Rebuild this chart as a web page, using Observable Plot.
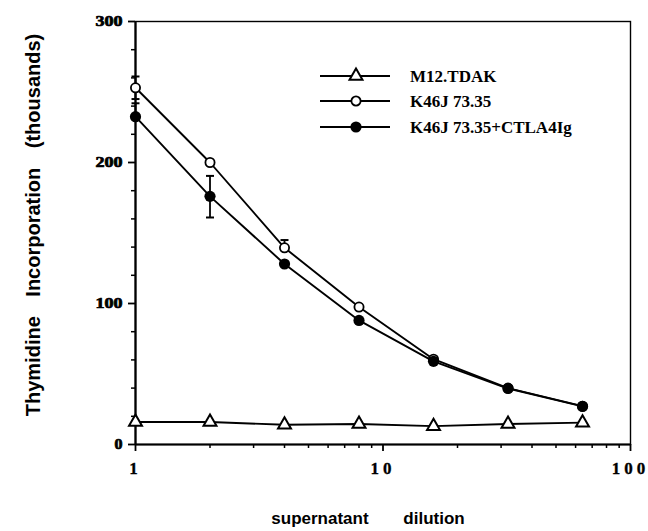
<!DOCTYPE html>
<html><head><meta charset="utf-8">
<script src="https://cdn.jsdelivr.net/npm/d3@7"></script>
<script src="https://cdn.jsdelivr.net/npm/@observablehq/plot@0.6"></script>
<style>
body{margin:0;background:#fff;}
</style></head><body><div id="chart"></div>
<script>
// ---- data ----
const dilutions = [1, 2, 4, 8, 16, 32, 64];
const seriesNames = ["M12.TDAK", "K46J 73.35", "K46J 73.35+CTLA4Ig"];
const m12 = [16, 16, 14, 14.5, 13, 14.5, 15.5];
const k46j = [253, 200, 139.5, 97.5, 60.5, 40, 27.2];
const k46jCtla = [232.5, 176, 128, 88, 59, 39.7, 27];
const errX = [1, 1, 2, 4];
const errSeries = ["K46J 73.35", "K46J 73.35+CTLA4Ig", "K46J 73.35+CTLA4Ig", "K46J 73.35"];
const errLow = [245, 232.5, 161, 139.5];
const errHigh = [261, 242, 190.5, 145];
const xMajorTicks = [1, 10, 100];
const xMinorTicks = [2, 3, 4, 5, 6, 7, 8, 9, 20, 30, 40, 50, 60, 70, 80, 90];
const yMajorTicks = [0, 100, 200, 300];
const yMinorTicks = [20, 40, 60, 80, 120, 140, 160, 180, 220, 240, 260, 280];
const xTitle = "supernatant dilution";
const yTitle = "Thymidine Incorporation (thousands)";

// ---- build table ----
const seriesValues = [m12, k46j, k46jCtla];
const rows = [];
seriesNames.forEach((s, i) => dilutions.forEach((d, j) => rows.push({series: s, dilution: d, value: seriesValues[i][j]})));
const errs = errX.map((x, i) => ({series: errSeries[i], dilution: x, low: errLow[i], high: errHigh[i]}));

const capSymbol = {draw(ctx, size) { const w = Math.sqrt(size) / 2; ctx.moveTo(-w, 0); ctx.lineTo(w, 0); }};

const serif = "Liberation Serif, Times New Roman, serif";
const sans = "Liberation Sans, Arial, Helvetica, sans-serif";

const chart = Plot.plot({
  width: 648, height: 531,
  marginLeft: 135, marginRight: 18, marginTop: 21, marginBottom: 87,
  style: {background: "white", color: "black"},
  x: {type: "log", domain: [1, 100], axis: null},
  y: {domain: [0, 300], axis: null},
  marks: [
    Plot.axisX(xMinorTicks, {tickSize: 4, strokeWidth: 1.5, tickFormat: () => "", label: null}),
    Plot.axisX(xMajorTicks, {tickSize: 7, tickPadding: 10, strokeWidth: 1.8, tickFormat: d => String(d), label: null,
      fontFamily: serif, fontWeight: "bold", fontSize: 17}),
    Plot.axisY(yMinorTicks, {tickSize: 4, strokeWidth: 1.5, tickFormat: () => "", label: null}),
    Plot.axisY(yMajorTicks, {tickSize: 7, tickPadding: 6, strokeWidth: 1.8, tickFormat: d => String(d), label: null,
      fontFamily: serif, fontWeight: "bold", fontSize: 14}),
    Plot.frame({strokeWidth: 1.4}),
    Plot.ruleX([1], {strokeWidth: 2.2}),
    Plot.ruleY([0], {strokeWidth: 2.2}),
    Plot.line(rows, {x: "dilution", y: "value", z: "series", stroke: "black", strokeWidth: 1.9}),
    Plot.ruleX(errs, {x: "dilution", y1: "low", y2: "high", stroke: "black", strokeWidth: 1.8}),
    Plot.dot(errs, {x: "dilution", y: "high", symbol: capSymbol, r: 4.5, stroke: "black", strokeWidth: 2, fill: "none"}),
    Plot.dot(errs, {x: "dilution", y: "low", symbol: capSymbol, r: 4.5, stroke: "black", strokeWidth: 2, fill: "none"}),
    Plot.dot(rows.filter(d => d.series === seriesNames[0]), {x: "dilution", y: "value", symbol: "triangle", r: 4.8, fill: "white", stroke: "black", strokeWidth: 2}),
    Plot.dot(rows.filter(d => d.series === seriesNames[1]), {x: "dilution", y: "value", symbol: "circle", r: 4.6, fill: "white", stroke: "black", strokeWidth: 1.8}),
    Plot.dot(rows.filter(d => d.series === seriesNames[2]), {x: "dilution", y: "value", symbol: "circle", r: 5.6, fill: "black", stroke: "none"})
  ]
});
document.getElementById("chart").appendChild(chart);

const svg = d3.select(chart);
// heavy, wide y tick labels
svg.selectAll('g[aria-label="y-axis tick label"] text').each(function() {
  const t = d3.select(this); const s = t.text();
  if (s.length) t.attr("textLength", s.length === 1 ? 8 : 27).attr("lengthAdjust", "spacingAndGlyphs")
    .attr("stroke", "black").attr("stroke-width", 0.7);
});
svg.selectAll('g[aria-label="x-axis tick label"] text').attr("letter-spacing", "4px")
  .attr("stroke", "black").attr("stroke-width", 0.3);

// axis titles
svg.append("text").attr("x", 368).attr("y", 524).attr("text-anchor", "middle")
  .attr("font-family", sans).attr("font-weight", "bold").attr("font-size", 17).attr("word-spacing", "30px")
  .attr("fill", "black").text(xTitle);
svg.append("text").attr("transform", "translate(40,225) rotate(-90)").attr("text-anchor", "middle")
  .attr("font-family", sans).attr("font-weight", "bold").attr("font-size", 20).attr("word-spacing", "14px")
  .attr("fill", "black").text(yTitle);

// legend
const legY = [76, 101, 127];
const leg = svg.append("g");
seriesNames.forEach((name, i) => {
  const g = leg.append("g").attr("transform", `translate(0,${legY[i]})`);
  g.append("line").attr("x1", 320).attr("x2", 390).attr("y1", 0).attr("y2", 0).attr("stroke", "black").attr("stroke-width", 1.8);
  const r = i === 2 ? 5.6 : (i === 0 ? 4.8 : 4.6);
  const sym = d3.symbol(i === 0 ? d3.symbolTriangle : d3.symbolCircle, Math.PI * r * r)();
  g.append("path").attr("d", sym).attr("transform", "translate(356,0)")
    .attr("fill", i === 2 ? "black" : "white").attr("stroke", i === 2 ? "none" : "black").attr("stroke-width", i === 0 ? 2 : 1.8);
  g.append("text").attr("x", 410).attr("y", 6).attr("text-anchor", "start").attr("font-family", serif).attr("font-weight", "bold")
    .attr("font-size", 17).attr("fill", "black").text(name);
});
</script></body></html>
